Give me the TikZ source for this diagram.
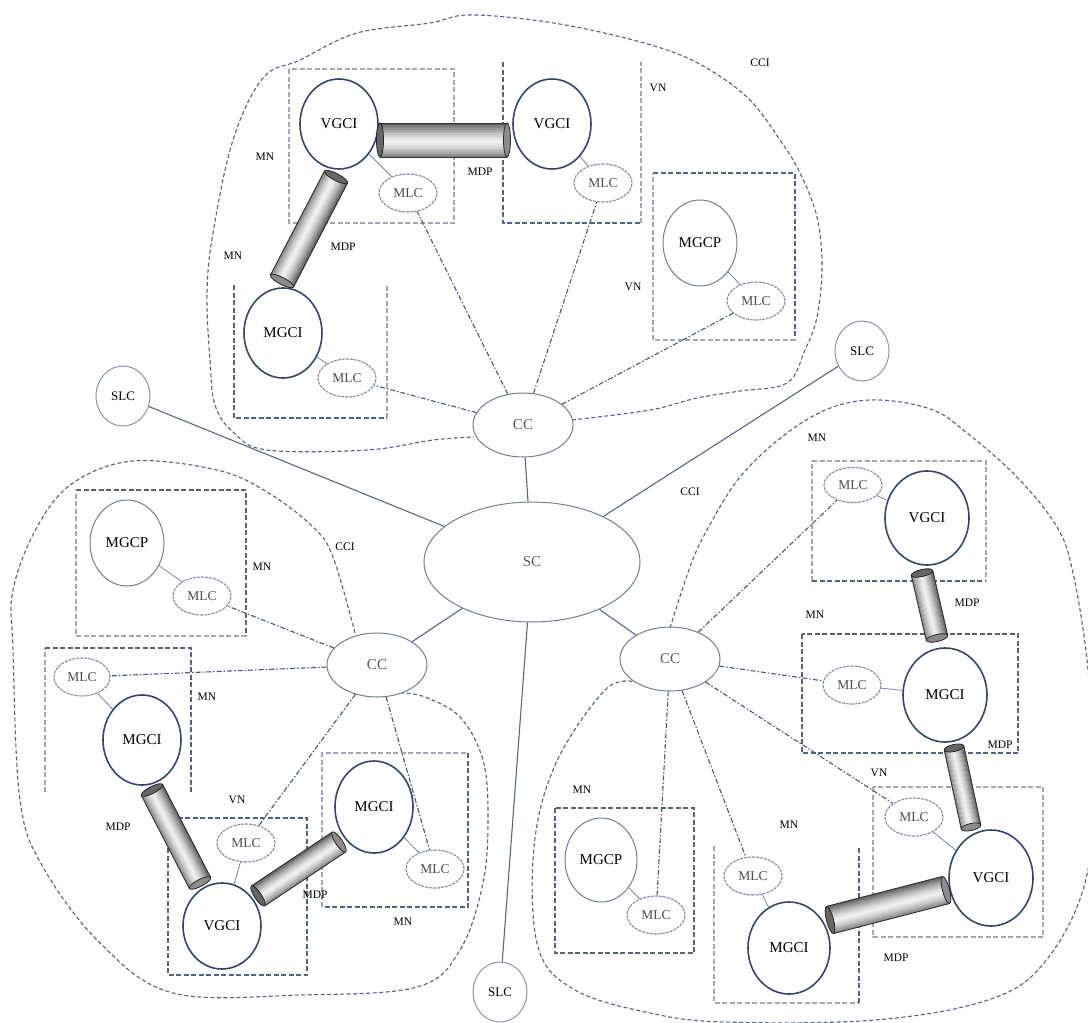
\documentclass[tikz,border=0pt]{standalone}
\usepackage{fontspec}
\setmainfont{Liberation Serif}
\usetikzlibrary{shapes.geometric}

\definecolor{navy}{HTML}{34466A}
\definecolor{slate}{HTML}{5A6682}
\definecolor{pale}{HTML}{A2A7B2}
\definecolor{cloudc}{HTML}{56627E}

% a grey shaded cylinder lying between two named coordinates; #3 = half thickness in pt
\newcommand{\pipe}[3]{%
  \pgfpointdiff{\pgfpointanchor{#1}{center}}{\pgfpointanchor{#2}{center}}%
  \pgfgetlastxy{\pdx}{\pdy}%
  \pgfmathsetmacro\pang{atan2(\pdy,\pdx)}%
  \pgfmathsetmacro\plen{veclen(\pdx,\pdy)}%
  \begin{scope}[shift={(#1)}, rotate=\pang]
    \foreach \t in {-1.0,-0.9,...,0.95} {
      \pgfmathsetmacro\sv{6+52*abs(\t+0.15)^1.4}
      \fill[black!\sv] (0pt,{\t*#3pt}) rectangle (\plen pt,{(\t+0.12)*#3pt});
    }
    \draw[black!80, line width=0.9pt] (0pt,-#3pt) -- (\plen pt,-#3pt)
      (0pt,#3pt) -- (\plen pt,#3pt);
    \filldraw[fill=black!45, draw=black!85, line width=0.8pt]
      (\plen pt,0pt) ellipse [x radius=3.5pt, y radius=#3pt];
    \filldraw[fill=black!60, draw=black!85, line width=0.8pt]
      (0pt,0pt) ellipse [x radius=3.5pt, y radius=#3pt];
  \end{scope}}

\begin{document}
\begin{tikzpicture}[x=1pt, y=-1pt,
  gc/.style={ellipse, draw=navy, line width=1.6pt, minimum width=78pt,
    minimum height=90pt, inner sep=0pt, font=\fontsize{15pt}{15pt}\selectfont},
  gcp/.style={ellipse, draw=slate!85, line width=1pt, minimum width=74pt,
    minimum height=86pt, inner sep=0pt, font=\fontsize{15pt}{15pt}\selectfont},
  mlc/.style={ellipse, draw=slate!75, line width=1.1pt, dash pattern=on 3pt off 1pt,
    minimum width=58pt, minimum height=38pt, inner sep=0pt, text=black!70,
    font=\fontsize{13.5pt}{13.5pt}\selectfont},
  ctr/.style={ellipse, draw=slate!85, line width=1pt, minimum width=100pt,
    minimum height=64pt, inner sep=0pt, text=black!65,
    font=\fontsize{15pt}{15pt}\selectfont},
  slc/.style={ellipse, draw=slate!70, line width=1pt, minimum width=54pt,
    minimum height=60pt, inner sep=0pt, font=\fontsize{13pt}{13pt}\selectfont},
  lbl/.style={inner sep=1pt, font=\fontsize{11.5pt}{11.5pt}\selectfont},
  cloud/.style={draw=cloudc, line width=1.1pt, dash pattern=on 4pt off 2.5pt},
  darkbox/.style={draw=navy!85, line width=1.3pt, dash pattern=on 5pt off 2.5pt},
  lightbox/.style={draw=pale, line width=1.3pt, dash pattern=on 5pt off 2.5pt},
  link/.style={draw=navy!90, line width=1.1pt,
    dash pattern=on 5pt off 2pt on 1.5pt off 2pt},
  trunk/.style={draw=slate, line width=1.1pt},
  tie/.style={draw=slate!80, line width=0.8pt}]

\clip (0,0) rectangle (1088,1023);
\fill[white] (0,0) rectangle (1088,1023);

% ---------- cluster outlines ----------
\draw[cloud] plot[smooth, tension=0.6] coordinates {
  (572,420) (650,410) (697,398) (740,391) (787,383) (805,350) (817,317)
  (822,267) (817,217) (800,173) (780,140) (750,100) (710,70) (667,50)
  (600,32) (533,20) (467,15) (430,23) (357,33) (300,60) (263,78) (233,140)
  (213,233) (207,293) (210,360) (215,405) (233,432) (267,450) (367,450)
  (433,440) (474,437)};
\draw[cloud] plot[smooth, tension=0.6] coordinates {
  (355,633) (333,557) (313,527) (267,492) (217,470) (133,461) (73,483)
  (37,527) (13,590) (13,650) (20,800) (43,867) (100,943) (173,993) (300,995)
  (417,987) (460,950) (483,883) (488,817) (483,760) (460,717) (425,697) (402,693)};
\draw[cloud] plot[smooth, tension=0.6] coordinates {
  (670,628) (690,567) (707,530) (740,477) (787,433) (833,407) (880,400)
  (933,410) (967,433) (1017,477) (1057,527) (1073,573) (1087,660) (1095,770)
  (1085,883) (1044,963) (988,1000) (875,1020) (725,1022) (650,1013) (575,990)
  (538,947) (534,847) (556,763) (605,690) (635,682)};

% ---------- network boxes ----------
\draw[lightbox] (289,69) rectangle (454,223);
\draw[darkbox] (503,62) -- (503,223) -- (641,223);
\draw[lightbox] (641,223) -- (641,62);
\draw[darkbox] (653,173) -- (795,173) -- (795,340);
\draw[lightbox] (795,340) -- (653,340) -- (653,173);
\draw[darkbox] (234,285) -- (234,418) -- (387,418);
\draw[lightbox] (387,418) -- (387,283);

\draw[darkbox] (76,490) -- (246,490) -- (246,636);
\draw[lightbox] (246,636) -- (76,636) -- (76,490);
\draw[lightbox] (45,792) -- (45,648);
\draw[darkbox] (45,648) -- (191,648) -- (191,792);
\draw[darkbox] (168,818) rectangle (307,975);
\draw[lightbox] (322,907) -- (322,753) -- (468,753);
\draw[darkbox] (468,753) -- (468,907) -- (322,907);

\draw[lightbox] (812,581) -- (812,461) -- (986,461) -- (986,581);
\draw[darkbox] (812,581) -- (986,581);
\draw[darkbox] (802,634) rectangle (1018,753);
\draw[darkbox] (555,808) rectangle (694,953);
\draw[lightbox] (714,846) -- (714,1003) -- (859,1003);
\draw[darkbox] (859,1003) -- (859,846);
\draw[lightbox] (873,787) rectangle (1043,937);

% ---------- controllers ----------
\node[ctr, minimum width=216pt, minimum height=120pt] (sc) at (532,562) {SC};
\node[ctr] (ccT) at (523,425) {CC};
\node[ctr] (ccL) at (377,665) {CC};
\node[ctr] (ccR) at (670,659) {CC};
\node[slc] (slcL) at (123,396) {SLC};
\node[slc] (slcR) at (862,351) {SLC};
\node[slc] (slcB) at (500,992) {SLC};

% ---------- upper cluster ----------
\node[gc]  (gA) at (339,124) {VGCI};
\node[gc]  (gB) at (552,124) {VGCI};
\node[gcp] (gC) at (700,243) {MGCP};
\node[gc]  (gD) at (283,333) {MGCI};
\node[mlc] (mA) at (408,193) {MLC};
\node[mlc] (mB) at (603,183) {MLC};
\node[mlc] (mC) at (756,301) {MLC};
\node[mlc] (mD) at (347,378) {MLC};

% ---------- left cluster ----------
\node[gcp] (gE) at (127,543) {MGCP};
\node[gc]  (gF) at (142,740) {MGCI};
\node[gc, minimum height=86pt] (gG) at (222,926) {VGCI};
\node[gc, minimum height=92pt] (gH) at (374,807) {MGCI};
\node[mlc] (mE) at (202,596) {MLC};
\node[mlc, minimum width=56pt] (mF) at (82,677) {MLC};
\node[mlc] (mG) at (246,843) {MLC};
\node[mlc] (mH) at (435,869) {MLC};

% ---------- right cluster ----------
\node[gc, minimum width=84pt, minimum height=94pt] (gI) at (927,518) {VGCI};
\node[gc, minimum width=84pt, minimum height=94pt] (gJ) at (945,695) {MGCI};
\node[gcp, minimum width=72pt, minimum height=84pt] (gK) at (601,860) {MGCP};
\node[gc, minimum width=82pt, minimum height=92pt] (gL) at (789,948) {MGCI};
\node[gc, minimum width=84pt, minimum height=96pt] (gM) at (991,878) {VGCI};
\node[mlc, minimum height=35pt] (mI) at (853,485) {MLC};
\node[mlc] (mJ) at (852,685) {MLC};
\node[mlc] (mK) at (656,915) {MLC};
\node[mlc] (mL) at (753,876) {MLC};
\node[mlc] (mM) at (914,817) {MLC};

% ---------- labels ----------
\node[lbl] (t1) at (760,63) {CCI};
\node[lbl] (t2) at (265,157) {MN};
\node[lbl] (t3) at (233,256) {MN};
\node[lbl] (t4) at (480,172) {MDP};
\node[lbl] (t5) at (343,247) {MDP};
\node[lbl] (t6) at (658,88) {VN};
\node[lbl] (t7) at (633,287) {VN};
\node[lbl] (t8) at (262,567) {MN};
\node[lbl] (t9) at (345,547) {CCI};
\node[lbl] (t10) at (207,697) {MN};
\node[lbl] (t11) at (118,827) {MDP};
\node[lbl] (t12) at (237,800) {VN};
\node[lbl] (t13) at (315,895) {MDP};
\node[lbl] (t14) at (403,922) {MN};
\node[lbl] (t15) at (690,492) {CCI};
\node[lbl] (t16) at (817,438) {MN};
\node[lbl] (t17) at (967,603) {MDP};
\node[lbl] (t18) at (815,615) {MN};
\node[lbl] (t19) at (879,773) {VN};
\node[lbl] (t20) at (1000,745) {MDP};
\node[lbl] (t21) at (582,790) {MN};
\node[lbl] (t22) at (789,825) {MN};
\node[lbl] (t23) at (896,958) {MDP};

% ---------- trunk links ----------
\draw[trunk] (sc) -- (ccT);
\draw[trunk] (sc) -- (ccL);
\draw[trunk] (sc) -- (ccR);
\draw[trunk] (sc) -- (slcL);
\draw[trunk] (sc) -- (slcR);
\draw[trunk] (sc) -- (slcB);

% ---------- controller to MLC links ----------
\draw[link] (ccT) -- (mA);
\draw[link] (ccT) -- (mB);
\draw[link] (ccT) -- (mC);
\draw[link] (ccT) -- (mD);
\draw[link] (ccL) -- (mE);
\draw[link] (ccL) -- (mF);
\draw[link] (ccL) -- (mG);
\draw[link] (ccL) -- (mH);
\draw[link] (ccR) -- (mI);
\draw[link] (ccR) -- (mJ);
\draw[link] (ccR) -- (mK);
\draw[link] (ccR) -- (mL);
\draw[link] (ccR) -- (mM);

% ---------- MLC to its node ----------
\foreach \a/\b in {mA/gA, mB/gB, mC/gC, mD/gD, mE/gE, mF/gF, mG/gG, mH/gH,
                   mI/gI, mJ/gJ, mK/gK, mL/gL, mM/gM}
  \draw[tie] (\a) -- (\b);

% ---------- data pipes ----------
\coordinate (p1a) at (380,140);  \coordinate (p1b) at (507,140);
\coordinate (p2a) at (336,177);  \coordinate (p2b) at (282,281);
\coordinate (p3a) at (152,790);  \coordinate (p3b) at (200,883);
\coordinate (p4a) at (258,896);  \coordinate (p4b) at (339,842);
\coordinate (p5a) at (922,573);  \coordinate (p5b) at (937,638);
\coordinate (p6a) at (954,748);  \coordinate (p6b) at (971,827);
\coordinate (p7a) at (830,920);  \coordinate (p7b) at (946,890);
\pipe{p1a}{p1b}{17}
\pipe{p2a}{p2b}{13}
\pipe{p3a}{p3b}{12}
\pipe{p4a}{p4b}{12}
\pipe{p5a}{p5b}{11}
\pipe{p6a}{p6b}{10}
\pipe{p7a}{p7b}{14}
\end{tikzpicture}
\end{document}
